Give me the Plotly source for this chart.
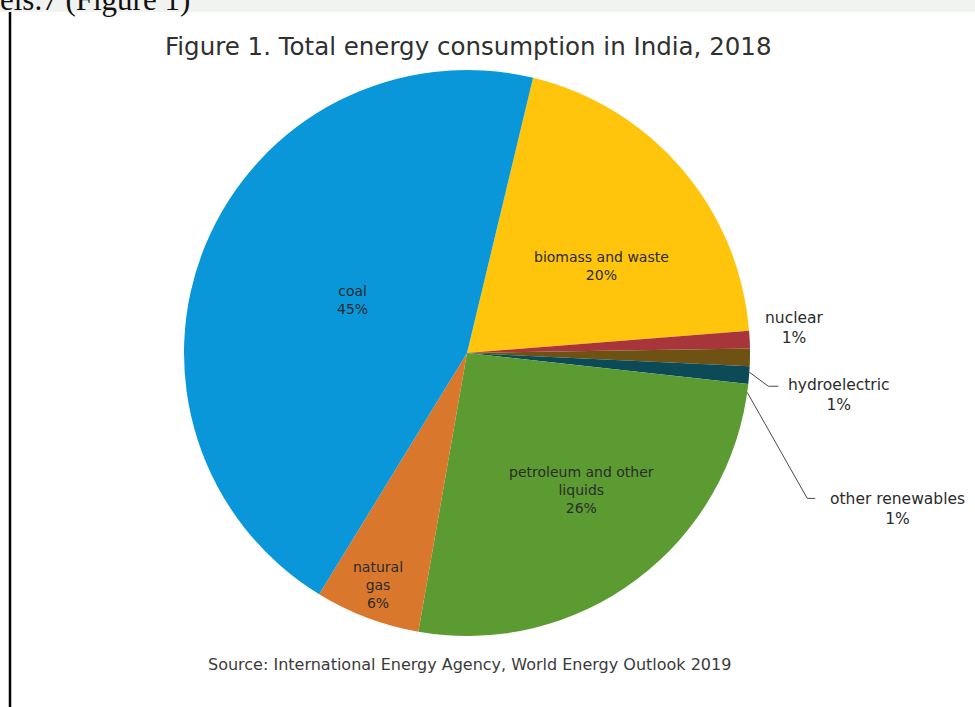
import math
import plotly.graph_objects as go

# Shares of total energy consumption, India 2018 (percent), in clockwise order
categories = ["biomass and waste", "nuclear", "hydroelectric", "other renewables",
              "petroleum and other liquids", "natural gas", "coal"]
shares = [20, 1, 1, 1, 26, 6, 45]
label_text = ["biomass and waste<br>20%", "nuclear<br>1%", "hydroelectric<br>1%",
              "other renewables<br>1%", "petroleum and other<br>liquids<br>26%",
              "natural<br>gas<br>6%", "coal<br>45%"]
colors = ["#FFC40C", "#A8353A", "#6E5214", "#0D4A58", "#5C9B32", "#D9772C", "#0A97DA"]

title = "Figure 1. Total energy consumption in India, 2018"
source = "Source: International Energy Agency, World Energy Outlook 2019"

W, H = 975, 707
CX, CY, R = 467, 353, 283
ROTATION = 13.5


def px(x):
    return x / W


def py(y):
    return 1 - y / H


fig = go.Figure(go.Pie(
    labels=categories,
    values=shares,
    sort=False,
    direction="clockwise",
    rotation=ROTATION,
    marker=dict(colors=colors, line=dict(width=0)),
    textinfo="none",
    hoverinfo="label+percent",
    showlegend=False,
    domain=dict(x=[px(CX - R), px(CX + R)], y=[py(CY + R), py(CY - R)]),
))

# mid-angle of each slice (degrees clockwise from 12 o'clock)
total = sum(shares)
mids = []
acc = ROTATION
for v in shares:
    span = 360 * v / total
    mids.append(acc + span / 2)
    acc += span


def polar(angle_deg, frac):
    a = math.radians(angle_deg)
    return CX + frac * R * math.sin(a), CY - frac * R * math.cos(a)


inside_font = dict(family="DejaVu Sans", size=14, color="#2b2b2b")
outside_font = dict(family="DejaVu Sans", size=15.5, color="#2b2b2b")
annotations = []

# labels placed inside the larger slices: (radius fraction, angle shift)
inside = {"biomass and waste": (0.565, 7.5), "petroleum and other liquids": (0.63, -3),
          "natural gas": (0.88, 0.3), "coal": (0.445, 2.5)}
for cat, txt, mid in zip(categories, label_text, mids):
    if cat in inside:
        frac, shift = inside[cat]
        x, y = polar(mid + shift, frac)
        annotations.append(dict(x=px(x), y=py(y), xref="paper", yref="paper",
                                text=txt, showarrow=False, font=inside_font,
                                xanchor="center", yanchor="middle", align="center"))

# small slices labelled outside the pie, two of them with elbow leader lines:
# (label centre x, y, leader start angle shift, elbow offsets from the rim)
outside = {"nuclear": (794, 328, None, None),
           "hydroelectric": (839, 395, 3.0, [(19, 14), (29, 14)]),
           "other renewables": (897, 509, 3.5, [(60, 106), (68, 106)])}
shapes = []
for cat, txt, mid in zip(categories, label_text, mids):
    if cat in outside:
        lx, ly, shift, elbow = outside[cat]
        annotations.append(dict(x=px(lx), y=py(ly), xref="paper", yref="paper",
                                text=txt, showarrow=False, font=outside_font,
                                xanchor="center", yanchor="middle", align="center"))
        if elbow:
            ex, ey = polar(mid + shift, 1.0)
            pts = [(ex, ey)] + [(ex + dx, ey + dy) for dx, dy in elbow]
            path = "M " + " L ".join(f"{px(x):.5f},{py(y):.5f}" for x, y in pts)
            shapes.append(dict(type="path", path=path, xref="paper", yref="paper",
                               line=dict(color="#4a4a4a", width=1)))

# chart title and source note
annotations.append(dict(x=px(468), y=py(47), xref="paper", yref="paper", text=title,
                        showarrow=False, xanchor="center", yanchor="middle",
                        font=dict(family="DejaVu Sans", size=24.5, color="#303030")))
annotations.append(dict(x=px(469), y=py(664), xref="paper", yref="paper", text=source,
                        showarrow=False, xanchor="center", yanchor="middle",
                        font=dict(family="DejaVu Sans", size=16, color="#3a3a3a")))

# running document text above the figure, cut at the top edge
annotations.append(dict(x=px(-2), y=py(19), xref="paper", yref="paper",
                        text="els.7 (Figure 1)", showarrow=False,
                        xanchor="left", yanchor="bottom",
                        font=dict(family="Liberation Serif", size=31, color="#111111")))

# page strip behind the heading text and the document margin rule
shapes.append(dict(type="rect", xref="paper", yref="paper", x0=0, x1=1, y0=py(12), y1=1,
                   fillcolor="#f1f3f1", line=dict(width=0), layer="below"))
shapes.append(dict(type="line", xref="paper", yref="paper", x0=px(10), x1=px(10),
                   y0=0, y1=py(12), line=dict(color="#000000", width=2.5)))

fig.update_layout(
    width=W, height=H,
    margin=dict(l=0, r=0, t=0, b=0),
    paper_bgcolor="#ffffff",
    plot_bgcolor="#ffffff",
    annotations=annotations,
    shapes=shapes,
)

fig.write_html("out.html")
